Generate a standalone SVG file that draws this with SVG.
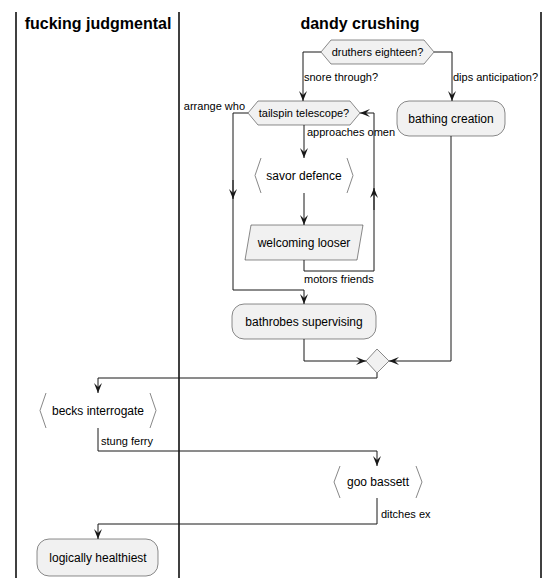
<svg xmlns="http://www.w3.org/2000/svg" width="558" height="586" viewBox="0 0 558 586">
<defs>
<marker id="ah" markerUnits="userSpaceOnUse" markerWidth="10" markerHeight="8" refX="10" refY="4" orient="auto" viewBox="0 0 10 8">
<path d="M0,0 L10,4 L0,8 L4,4 Z" fill="#181818"/>
</marker>
</defs>
<style>
text{font-family:"Liberation Sans",Arial,sans-serif;fill:#000}
.hd{font-size:16px;font-weight:bold;text-anchor:middle}
.nt{font-size:12px;text-anchor:middle}
.dt{font-size:11px;text-anchor:middle}
.lb{font-size:11px}
.lane{stroke:#000;stroke-width:1.5}
.box{fill:#F1F1F1;stroke:#181818;stroke-width:0.5}
.brk{fill:none;stroke:#888;stroke-width:1}
.c{fill:none;stroke:#181818;stroke-width:1}
.ca{fill:none;stroke:#181818;stroke-width:1;marker-end:url(#ah)}
</style>
<rect width="558" height="586" fill="#fff"/>
<g id="lanes">
<line class="lane" x1="16" y1="12" x2="16" y2="578"/>
<line class="lane" x1="179" y1="12" x2="179" y2="578"/>
<line class="lane" x1="541" y1="12" x2="541" y2="578"/>
<text class="hd" x="98" y="29">fucking judgmental</text>
<text class="hd" x="360" y="29">dandy crushing</text>
</g>
<g id="connectors">
<path class="ca" d="M321,52 H303 V101"/>
<text class="lb" x="304" y="81">snore through?</text>
<path class="ca" d="M434,52 H452 V101"/>
<text class="lb" x="453" y="81">dips anticipation?</text>
<path class="ca" d="M248,113 H233 V290 H304 V304"/>
<path class="ca" d="M233,180 V199"/>
<text class="lb" x="245" y="110" text-anchor="end">arrange who</text>
<path class="ca" d="M304,125 V158"/>
<text class="lb" x="307" y="136">approaches omen</text>
<path class="ca" d="M304,193 V225"/>
<path class="ca" d="M304,260 V271 H374 V113 H360"/>
<path class="ca" d="M374,210 V188"/>
<text class="lb" x="304" y="283">motors friends</text>
<path class="ca" d="M304,339 V361 H366"/>
<path class="ca" d="M451,136 V361 H389"/>
<path class="ca" d="M377,373 V378 H98 V393"/>
<path class="ca" d="M98,428 V451 H377 V466"/>
<text class="lb" x="101" y="445">stung ferry</text>
<path class="ca" d="M377,498 V524 H98 V539"/>
<text class="lb" x="381" y="518">ditches ex</text>
</g>
<g id="druthers">
<polygon class="box" points="321,52 331,40 424,40 434,52 424,64 331,64"/>
<text class="dt" x="377.5" y="56">druthers eighteen?</text>
</g>
<g id="bathing">
<rect class="box" x="397" y="101" width="108" height="35" rx="12"/>
<text class="nt" x="451" y="123">bathing creation</text>
</g>
<g id="tailspin">
<polygon class="box" points="248,113 258,101 350,101 360,113 350,125 258,125"/>
<text class="dt" x="304" y="117">tailspin telescope?</text>
</g>
<g id="savor">
<polyline class="brk" points="261,158 255,175.5 261,193"/>
<polyline class="brk" points="347,158 353,175.5 347,193"/>
<text class="nt" x="304" y="180">savor defence</text>
</g>
<g id="welcoming">
<polygon class="box" points="251,225 363,225 357,260 245,260"/>
<text class="nt" x="304" y="247">welcoming looser</text>
</g>
<g id="bathrobes">
<rect class="box" x="232" y="304" width="144" height="35" rx="12"/>
<text class="nt" x="304" y="326">bathrobes supervising</text>
</g>
<g id="merge">
<polygon class="box" points="377,349 389,361 377,373 366,361"/>
</g>
<g id="becks">
<polyline class="brk" points="46,393 40,410.5 46,428"/>
<polyline class="brk" points="150,393 156,410.5 150,428"/>
<text class="nt" x="98" y="415">becks interrogate</text>
</g>
<g id="goo">
<polyline class="brk" points="340,466 334,482 340,498"/>
<polyline class="brk" points="416,466 422,482 416,498"/>
<text class="nt" x="378" y="486">goo bassett</text>
</g>
<g id="logically">
<rect class="box" x="37" y="539" width="121" height="37" rx="12"/>
<text class="nt" x="98" y="562">logically healthiest</text>
</g>
</svg>
